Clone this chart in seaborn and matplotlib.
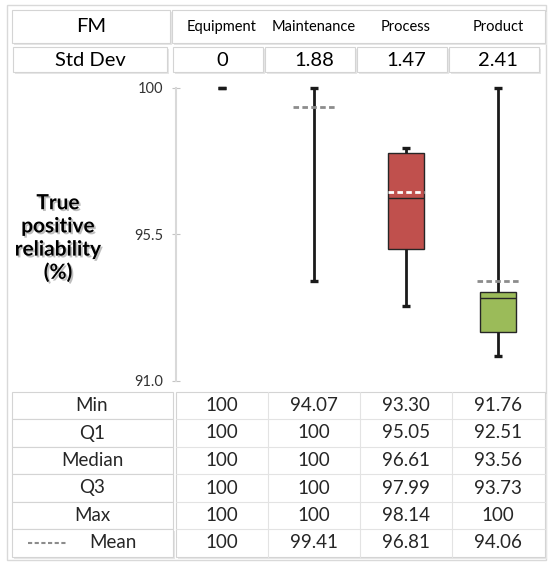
import numpy as np
import pandas as pd
import matplotlib
matplotlib.use("Agg")
import matplotlib.pyplot as plt
import matplotlib.patheffects as pe
from matplotlib.patches import Rectangle
import seaborn as sns

# ---- data -------------------------------------------------------------
categories = ["Equipment", "Maintenance", "Process", "Product"]
std_devs = [0, 1.88, 1.47, 2.41]
mins = [100, 94.07, 93.30, 91.76]
q1s = [100, 100, 95.05, 92.51]
medians = [100, 100, 96.61, 93.56]
q3s = [100, 100, 97.99, 93.73]
maxs = [100, 100, 98.14, 100]
means = [100, 99.41, 96.81, 94.06]
row_labels = ["Min", "Q1", "Median", "Q3", "Max", "Mean"]
y_ticks = [91.0, 95.5, 100]
y_tick_labels = ["91.0", "95.5", "100"]
box_colors = ["#4F81BD", "#8064A2", "#C0504D", "#9BBB59"]


def fmt(v):
    if v == 0:
        return "0"
    if v == 100:
        return "100"
    return f"{v:.2f}"


sns.set_theme(style="white")
plt.rcParams["font.family"] = ["Lato", "DejaVu Sans"]

W, H = 548, 563
fig = plt.figure(figsize=(W / 100, H / 100), dpi=100)

# pixel-space canvas for the table frame and text
bg = fig.add_axes([0, 0, 1, 1], zorder=0)
bg.set_xlim(0, W)
bg.set_ylim(H, 0)
bg.axis("off")

EDGE = "#d4d4d4"
SHADOW = "#e6e6e6"


def cell(x0, y0, x1, y1, shadow=True):
    if shadow:
        bg.add_patch(Rectangle((x0 + 1.5, y0 + 1.5), x1 - x0, y1 - y0,
                               facecolor=SHADOW, edgecolor="none", zorder=1))
    bg.add_patch(Rectangle((x0, y0), x1 - x0, y1 - y0, facecolor="white",
                           edgecolor=EDGE, linewidth=0.8, zorder=2))


# outer frame
bg.add_patch(Rectangle((7, 5), 539, 555, facecolor="none", edgecolor="#d9d9d9",
                       linewidth=1.0, zorder=1))

col_edges = [176, 268, 360, 452, 544]
col_centers = [(a + b) / 2 for a, b in zip(col_edges[:-1], col_edges[1:])]

# header row
cell(12, 10, 170, 43)
cell(172, 10, 545, 43)
bg.text(91, 27, "FM", ha="center", va="center", fontsize=14.5, color="black", zorder=3)
for cx, name in zip(col_centers, categories):
    bg.text(cx, 27, name, ha="center", va="center", fontsize=10.5, color="black", zorder=3)

# std dev row
cell(13, 47, 167, 72)
bg.text(90, 60, "Std Dev", ha="center", va="center", fontsize=14.5, color="black", zorder=3)
for i, s in enumerate(std_devs):
    cell(col_edges[i] - 3, 47, col_edges[i + 1] - 5, 72)
    bg.text(col_centers[i], 60, fmt(s), ha="center", va="center", fontsize=14.5,
            color="black", zorder=3)

# summary table below the plot
row_edges = [392, 419, 447, 474, 502, 529, 557]
stats_rows = [mins, q1s, medians, q3s, maxs, means]
cell(176, row_edges[0], 545, row_edges[-1])
for r in range(len(row_labels)):
    y0, y1 = row_edges[r], row_edges[r + 1]
    cell(12, y0, 173, y1, shadow=(r == len(row_labels) - 1))
    if r > 0:
        bg.plot([176, 545], [y0, y0], color="#e3e3e3", lw=0.8, zorder=3)
    yc = (y0 + y1) / 2
    if row_labels[r] == "Mean":
        bg.plot([28, 66], [yc, yc], color="#8c8c8c", lw=1.5,
                linestyle=(0, (2, 1.2)), zorder=3)
        bg.text(113, yc, "Mean", ha="center", va="center", fontsize=13.5, zorder=3)
    else:
        bg.text(92, yc, row_labels[r], ha="center", va="center", fontsize=13.5, zorder=3)
    for i, v in enumerate(stats_rows[r]):
        bg.text(col_centers[i], yc, fmt(v), ha="center", va="center",
                fontsize=13.5, zorder=3)
for x in col_edges[1:-1]:
    bg.plot([x, x], [row_edges[0], row_edges[-1]], color="#e3e3e3", lw=0.8, zorder=3)

# y-axis title
bg.text(58, 238, "True\npositive\nreliability\n(%)", ha="center", va="center",
        fontsize=15, fontweight="bold", color="black", linespacing=1.2, zorder=3,
        path_effects=[pe.withSimplePatchShadow(offset=(1.3, -1.3),
                                               shadow_rgbFace="#8a8a8a", alpha=0.55)])

# ---- box plot ---------------------------------------------------------
y_top, y_bot = 87.5, 381
ax = fig.add_axes([176 / W, (H - y_bot) / H, 368 / W, (y_bot - y_top) / H], zorder=2)
ax.set_facecolor("none")

df = pd.DataFrame({
    "FM": np.repeat(categories, 5),
    "value": np.concatenate([[a, b, c, d, e] for a, b, c, d, e in
                             zip(mins, q1s, medians, q3s, maxs)]),
})

BOX_W = 0.4
CAP_W = 0.09
sns.boxplot(data=df, x="FM", y="value", hue="FM", order=categories,
            hue_order=categories, palette=box_colors, saturation=1,
            width=BOX_W, whis=(0, 100), showfliers=False, linecolor="#262626",
            linewidth=1, legend=False, ax=ax,
            whiskerprops={"linewidth": 2, "color": "#1a1a1a"},
            capprops={"linewidth": 2.4, "color": "#1a1a1a",
                      "solid_capstyle": "butt"},
            capwidths=CAP_W)

# flat boxes (no spread between quartiles) show only whiskers and caps
flat = [i for i, (lo, hi) in enumerate(zip(q1s, q3s)) if hi - lo == 0]
for line in ax.lines:
    xd = np.asarray(line.get_xdata(), dtype=float)
    yd = np.asarray(line.get_ydata(), dtype=float)
    if len(xd) < 2:
        continue
    if np.ptp(yd) == 0 and np.ptp(xd) > CAP_W * 1.5:
        centre = (xd.max() + xd.min()) / 2
        if any(abs(centre - i) < 0.1 for i in flat):
            line.set_visible(False)
for patch in ax.patches:
    if np.ptp(patch.get_path().vertices[:, 1]) == 0:
        patch.set_visible(False)

# mean markers
for i, (m, lo, hi, s) in enumerate(zip(means, q1s, q3s, std_devs)):
    if s == 0:
        continue
    inside = hi > lo and lo <= m <= hi
    color = "white" if inside else "#8c8c8c"
    half = 0.2 if inside else 0.225
    ax.hlines(m, i - half, i + half, colors=color, linestyles=(0, (2, 1.2)),
              linewidth=2, zorder=5)

for art in list(ax.lines) + list(ax.patches) + list(ax.collections):
    art.set_clip_on(False)

ax.set_xlim(-0.5, 3.5)
ax.set_ylim(91, 100)
ax.set_xticks([])
ax.set_yticks(y_ticks)
ax.set_yticklabels(y_tick_labels)
ax.set_xlabel("")
ax.set_ylabel("")
for side in ["top", "right", "bottom"]:
    ax.spines[side].set_visible(False)
ax.spines["left"].set_color("#d9d9d9")
ax.spines["left"].set_linewidth(1.5)
ax.tick_params(axis="y", direction="inout", length=6, width=0.8, color="#c4c4c4",
               labelsize=10.5, labelcolor="#333333", pad=6, left=True)

fig.savefig("out.png", dpi=100)
